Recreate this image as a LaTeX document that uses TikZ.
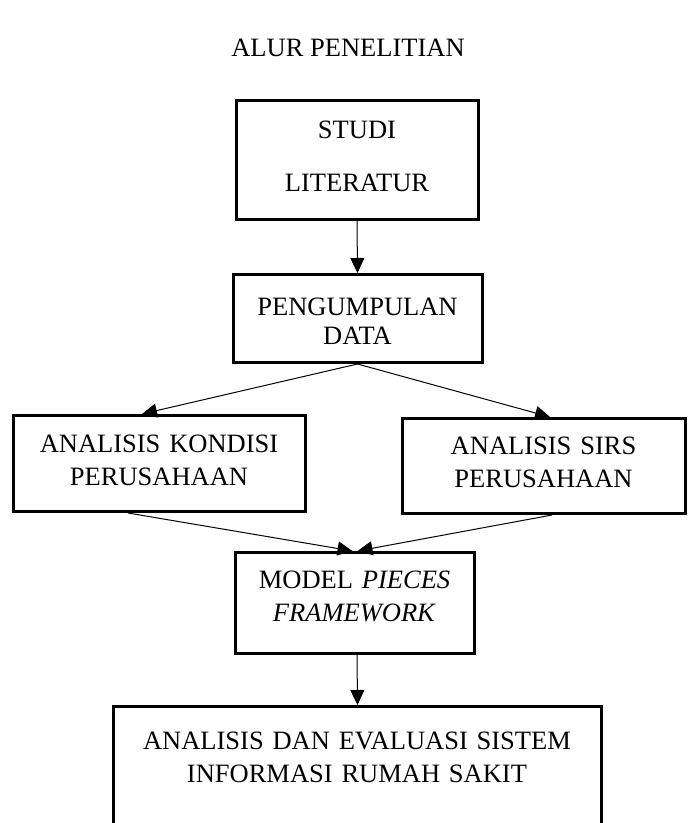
\documentclass[tikz,border=0pt]{standalone}
\usepackage{fontspec}
\setmainfont{Liberation Serif}
\usetikzlibrary{arrows.meta}

\begin{document}
\begin{tikzpicture}[
		x=0.5pt, y=-0.5pt,
		every node/.style={font=\fontsize{13.25}{16.5}\selectfont},
		box/.style={draw, line width=1.5pt, anchor=north, align=center, inner xsep=0pt, inner ysep=0pt},
		flow/.style={line width=0.5pt, -{Triangle[length=7.5pt, width=7pt]}},
		link/.style={line width=0.5pt}
		]

	\useasboundingbox (0, 0) rectangle (687, 823);
	\clip (0, 0) rectangle (687, 823);

	% Title
	\node[anchor=base] (judul) at (348, 57) {ALUR PENELITIAN};

	% Step 1
	\node[box, text width=121pt, text height=19pt, text depth=40.5pt] (studi) at (357, 99) {STUDI\\[10pt]LITERATUR};

	% Step 2
	\node[box, text width=124.5pt, text height=20.5pt, text depth=23.5pt] (data) at (357.5, 273) {PENGUMPULAN\\[-2pt]DATA};

	% Step 3, both sides
	\node[box, text width=146pt, text height=18.5pt, text depth=29.5pt] (kondisi) at (159, 414) {ANALISIS KONDISI\\PERUSAHAAN};
	\node[box, text width=141.5pt, text height=18pt, text depth=29.5pt] (sirs) at (543.5, 417) {ANALISIS SIRS\\PERUSAHAAN};

	% Step 4
	\node[box, text width=119.5pt, text height=18pt, text depth=32.5pt] (pieces) at (354.5, 551) {MODEL \textit{PIECES}\\\textit{FRAMEWORK}};

	% Step 5
	\node[box, text width=244pt, text height=21.5pt, text depth=51pt] (evaluasi) at (357, 705) {ANALISIS DAN EVALUASI SISTEM\\INFORMASI RUMAH SAKIT};

	% Arrows
	\draw[flow] (studi.south) -- (data.north);
	\draw[flow] (data.south) -- ([xshift=-8.5pt]kondisi.north);
	\draw[flow] (data.south) -- ([xshift=3.25pt]sirs.north);
	\draw[flow] ([xshift=-15.5pt]kondisi.south) -- ([xshift=-1pt]pieces.north);
	\draw[flow] ([xshift=4.25pt]sirs.south) -- ([xshift=1.5pt]pieces.north);
	\draw[flow] ([xshift=1.25pt]pieces.south) -- ([xshift=0.25pt]evaluasi.north);

\end{tikzpicture}
\end{document}
